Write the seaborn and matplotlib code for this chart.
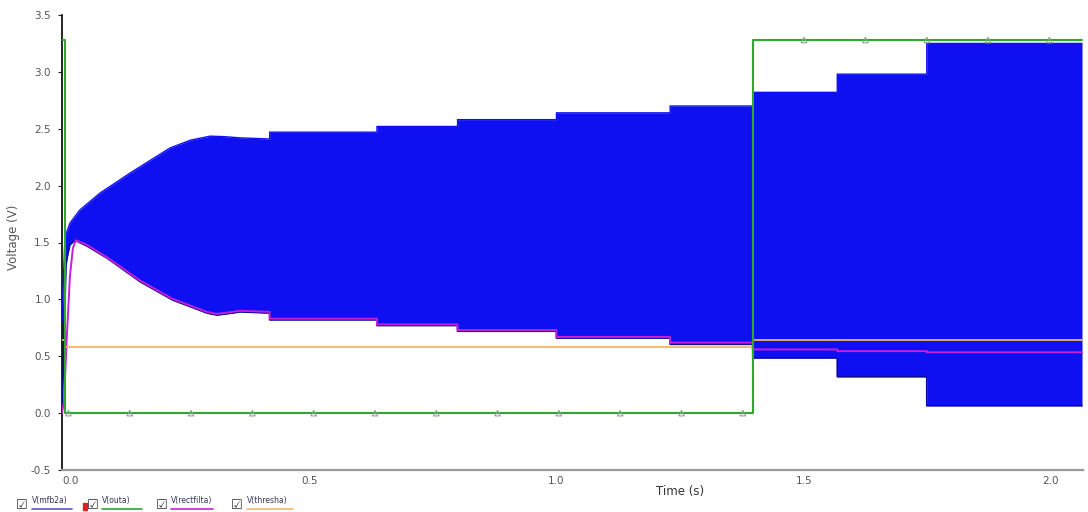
import numpy as np
import pandas as pd
import matplotlib
matplotlib.use("Agg")
import matplotlib.pyplot as plt
from matplotlib.patches import Rectangle
import seaborn as sns

# ---------------- data ----------------
# V(mfb2a): envelope of the fast oscillation (upper / lower edge)
mfb2a_hi_t = [0.0, 0.003, 0.006, 0.012, 0.016, 0.036, 0.077, 0.1375, 0.218, 0.26, 0.30, 0.33, 0.36,
              0.42, 0.42, 0.637, 0.637, 0.80, 0.80, 1.0, 1.0, 1.23, 1.23, 1.397, 1.397,
              1.568, 1.568, 1.749, 1.749, 2.063]
mfb2a_hi_v = [0.8, 1.2, 1.55, 1.62, 1.67, 1.785, 1.935, 2.11, 2.33, 2.40, 2.435, 2.43, 2.42,
              2.41, 2.47, 2.47, 2.52, 2.52, 2.58, 2.58, 2.64, 2.64, 2.70, 2.70, 2.82,
              2.82, 2.98, 2.98, 3.25, 3.25]
mfb2a_lo_t = [0.0, 0.004, 0.008, 0.011, 0.016, 0.026, 0.05, 0.091, 0.158, 0.224, 0.293, 0.313, 0.34, 0.36,
              0.42, 0.42, 0.637, 0.637, 0.80, 0.80, 1.0, 1.0, 1.23, 1.23, 1.397, 1.397,
              1.568, 1.568, 1.749, 1.749, 2.063]
mfb2a_lo_v = [0.0, 0.6, 1.3, 1.38, 1.48, 1.52, 1.47, 1.363, 1.155, 0.994, 0.88, 0.862, 0.877, 0.89,
              0.88, 0.82, 0.82, 0.77, 0.77, 0.72, 0.72, 0.66, 0.66, 0.605, 0.605, 0.485,
              0.485, 0.32, 0.32, 0.065, 0.065]

# V(outa)
outa_t = [0.0, 0.007, 0.007, 1.397, 1.397, 2.063]
outa_v = [3.28, 3.28, 0.0, 0.0, 3.28, 3.28]
outa_marker_t = [0.013, 0.137, 0.261, 0.385, 0.509, 0.633, 0.757, 0.881, 1.005, 1.129,
                 1.253, 1.377, 1.501, 1.625, 1.749, 1.873, 1.997]

# V(rectfilta)
rect_t = [0.0, 0.004, 0.0095, 0.016, 0.022, 0.028, 0.05, 0.091, 0.158, 0.224, 0.293, 0.313, 0.34, 0.36,
          0.42, 0.42, 0.637, 0.637, 0.80, 0.80, 1.0, 1.0, 1.23, 1.23, 1.397, 1.397,
          1.568, 1.568, 1.749, 1.749, 2.063]
rect_v = [0.0, 0.1, 0.65, 1.2, 1.45, 1.52, 1.48, 1.37, 1.165, 1.004, 0.89, 0.872, 0.887, 0.90,
          0.89, 0.83, 0.83, 0.78, 0.78, 0.73, 0.73, 0.67, 0.67, 0.62, 0.62, 0.56,
          0.56, 0.545, 0.545, 0.535, 0.535]

# V(thresha)
thr_t = [0.0, 0.006, 0.006, 1.397, 1.397, 2.063]
thr_v = [0.64, 0.64, 0.585, 0.585, 0.645, 0.645]

legend_names = ["V(mfb2a)", "V(outa)", "V(rectfilta)", "V(thresha)"]
x_ticks = [0.0, 0.5, 1.0, 1.5, 2.0]
x_ticklabels = ["0.0", "0.5", "1.0", "1.5", "2.0"]
y_ticks = [-0.5, 0.0, 0.5, 1.0, 1.5, 2.0, 2.5, 3.0, 3.5]
y_ticklabels = ["-0.5", "0.0", "0.5", "1.0", "1.5", "2.0", "2.5", "3.0", "3.5"]

# ---------------- style ----------------
sns.set_style("white")
plt.rcParams["font.family"] = ["DejaVu Sans"]

c_blue = "#0E10F2"
c_green = "#2BAA2B"
c_mag = "#C81ED8"
c_orange = "#F2B866"
c_leg_blue = "#5A5AC8"

W, H = 1088, 512
fig = plt.figure(figsize=(W / 100, H / 100), dpi=100)
ax = fig.add_axes([62 / W, 1 - 470 / H, (1083 - 62) / W, (470 - 15) / H])

hi = pd.DataFrame({"t": mfb2a_hi_t, "v": mfb2a_hi_v})
lo = pd.DataFrame({"t": mfb2a_lo_t, "v": mfb2a_lo_v})


def dense(ts, vs):
    ts = np.asarray(ts, float).copy()
    for i in range(1, len(ts)):
        if ts[i] <= ts[i - 1]:
            ts[i] = ts[i - 1] + 1e-5
    return ts, np.asarray(vs, float)


ht, hv = dense(mfb2a_hi_t, mfb2a_hi_v)
lt, lv = dense(mfb2a_lo_t, mfb2a_lo_v)
grid = np.union1d(ht, lt)
ax.fill_between(grid, np.interp(grid, lt, lv), np.interp(grid, ht, hv),
                color=c_blue, linewidth=0, zorder=2)
sns.lineplot(data=hi, x="t", y="v", sort=False, estimator=None, color=c_blue, lw=1.0, ax=ax, zorder=3)
sns.lineplot(data=lo, x="t", y="v", sort=False, estimator=None, color="#0A0A9A", lw=1.2, ax=ax, zorder=3)

# rectfilta
sns.lineplot(data=pd.DataFrame({"t": rect_t, "v": rect_v}), x="t", y="v", sort=False,
             estimator=None, color=c_mag, lw=1.4, ax=ax, zorder=4)
# thresha
sns.lineplot(data=pd.DataFrame({"t": thr_t, "v": thr_v}), x="t", y="v", sort=False,
             estimator=None, color=c_orange, lw=1.3, ax=ax, zorder=4)
# outa
sns.lineplot(data=pd.DataFrame({"t": outa_t, "v": outa_v}), x="t", y="v", sort=False,
             estimator=None, color=c_green, lw=1.5, ax=ax, zorder=5)
mk = pd.DataFrame({"t": outa_marker_t,
                   "v": np.interp(outa_marker_t, [0.0, 0.007, 0.0071, 1.397, 1.3971, 2.063],
                                  [3.28, 3.28, 0.0, 0.0, 3.28, 3.28])})
sns.scatterplot(data=mk, x="t", y="v", marker="^", s=16, facecolor="none",
                edgecolor="#8AA88A", linewidth=0.8, ax=ax, zorder=6)

ax.set_xlim(0, 2.065)
ax.set_ylim(-0.5, 3.5)
ax.set_xticks(x_ticks)
ax.set_xticklabels(x_ticklabels)
ax.set_yticks(y_ticks)
ax.set_yticklabels(y_ticklabels)
ax.get_xticklabels()[0].set_ha("left")
ax.tick_params(axis="x", length=2.5, width=0.8, color="#666666", labelsize=7.5,
               labelcolor="#555555", pad=2, direction="out")
ax.tick_params(axis="y", length=3, width=0.8, color="#222222", labelsize=7.5,
               labelcolor="#555555", pad=5, direction="out", left=True)
for s in ["top", "right"]:
    ax.spines[s].set_visible(False)
ax.spines["left"].set_color("#000000")
ax.spines["left"].set_linewidth(1.2)
ax.spines["bottom"].set_color("#9A9A9A")
ax.spines["bottom"].set_linewidth(1.6)
ax.set_xlabel("")
ax.set_ylabel("")
ax.grid(False)

fig.text(680 / W, 1 - 492 / H, "Time (s)", ha="center", va="center", fontsize=8.5, color="#333333")
fig.text(13 / W, 1 - 237 / H, "Voltage (V)", ha="center", va="center", rotation=90,
         fontsize=8.5, color="#555555", family=["Liberation Sans Narrow", "DejaVu Sans"])

# bottom legend (checkbox + name + colour underline)
leg_box_x = [16, 87, 156, 231]
leg_txt_x = [32, 102, 171, 247]
leg_line_end = [72, 142, 213, 293]
leg_cols = [c_leg_blue, c_green, c_mag, c_orange]
for bx, tx, le, name, col in zip(leg_box_x, leg_txt_x, leg_line_end, legend_names, leg_cols):
    fig.text(bx / W, 1 - 505 / H, "\u2611", fontsize=9.5, color="#333333", ha="left", va="center")
    fig.text(tx / W, 1 - 501 / H, name, fontsize=5.5, color="#333355", ha="left", va="center")
    fig.add_artist(plt.Line2D([tx / W, le / W], [1 - 508.5 / H, 1 - 508.5 / H],
                              color=col, lw=1.2, transform=fig.transFigure))
fig.add_artist(Rectangle((83 / W, 1 - 510 / H), 3.5 / W, 7 / H, color="#E02020",
                         transform=fig.transFigure))

fig.savefig("out.png", dpi=100)
